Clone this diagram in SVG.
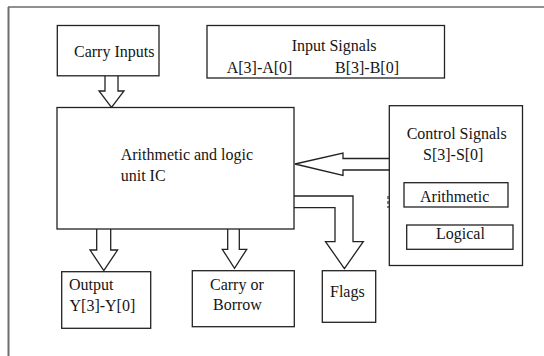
<svg xmlns="http://www.w3.org/2000/svg" width="544" height="356" viewBox="0 0 544 356">
<style>
  .box { fill: #ffffff; stroke: #222222; stroke-width: 1.3; }
  .arrow { fill: #ffffff; stroke: #222222; stroke-width: 1.3; stroke-linejoin: miter; }
  text { font-family: "Liberation Serif", "Times New Roman", serif; font-size: 16px; fill: #151515; }
</style>
<rect width="544" height="356" fill="#ffffff"/>
<g id="frame">
  <line x1="8" y1="7" x2="544" y2="7" stroke="#222222" stroke-width="1.2"/>
  <line x1="8.5" y1="7" x2="8.5" y2="356" stroke="#6e6e6e" stroke-width="2"/>
</g>
<g id="connectors">
  <path class="arrow" d="M105,76 V91 H99 L111.5,107.5 L124,91 H118 V76"/>
  <path class="arrow" d="M390,158.5 H343 V153 L295,164 L343,175.5 V170 H390"/>
  <path class="arrow" d="M294,196 H353 V241.7 H363.3 L344.4,268.5 L325.5,241.7 H335 V207.7 H294"/>
  <path class="arrow" d="M96.7,229 V250 H90 L103.8,270.5 L117.6,250 H110.7 V229"/>
  <path class="arrow" d="M227.7,229 V249.3 H222.3 L234.5,268.3 L246.7,249.3 H239.3 V229"/>
  <line x1="388" y1="196" x2="388" y2="208" stroke="#333333" stroke-width="1.2" stroke-dasharray="3,2"/>
</g>
<g id="carry-inputs">
  <rect class="box" x="57.3" y="25.5" width="101.7" height="50.3"/>
  <text x="74" y="57">Carry Inputs</text>
</g>
<g id="input-signals">
  <rect class="box" x="207" y="25.5" width="237.5" height="52.5"/>
  <text x="291.7" y="51">Input Signals</text>
  <text x="226.7" y="73">A[3]-A[0]</text>
  <text x="335" y="73">B[3]-B[0]</text>
</g>
<g id="alu">
  <rect class="box" x="57" y="107.5" width="237" height="121.5"/>
  <text x="120.7" y="160">Arithmetic and logic</text>
  <text x="120.7" y="180.5">unit IC</text>
</g>
<g id="control-signals">
  <rect class="box" x="389.3" y="105.7" width="133.2" height="159.8"/>
  <text x="406.7" y="139">Control Signals</text>
  <text x="423" y="160">S[3]-S[0]</text>
  <g id="arithmetic">
    <rect class="box" x="404" y="182.7" width="104" height="24.3"/>
    <text x="420" y="202">Arithmetic</text>
  </g>
  <g id="logical">
    <rect class="box" x="406.7" y="225" width="106.3" height="24.3"/>
    <text x="436" y="239">Logical</text>
  </g>
</g>
<g id="output">
  <rect class="box" x="61.7" y="271.7" width="89" height="56.6"/>
  <text x="69" y="290">Output</text>
  <text x="69.5" y="311">Y[3]-Y[0]</text>
</g>
<g id="carry-borrow">
  <rect class="box" x="192.3" y="270.7" width="102" height="56"/>
  <text x="210" y="290">Carry or</text>
  <text x="213" y="310">Borrow</text>
</g>
<g id="flags">
  <rect class="box" x="322.3" y="270.7" width="53.4" height="51.6"/>
  <text x="330" y="297">Flags</text>
</g>
</svg>
